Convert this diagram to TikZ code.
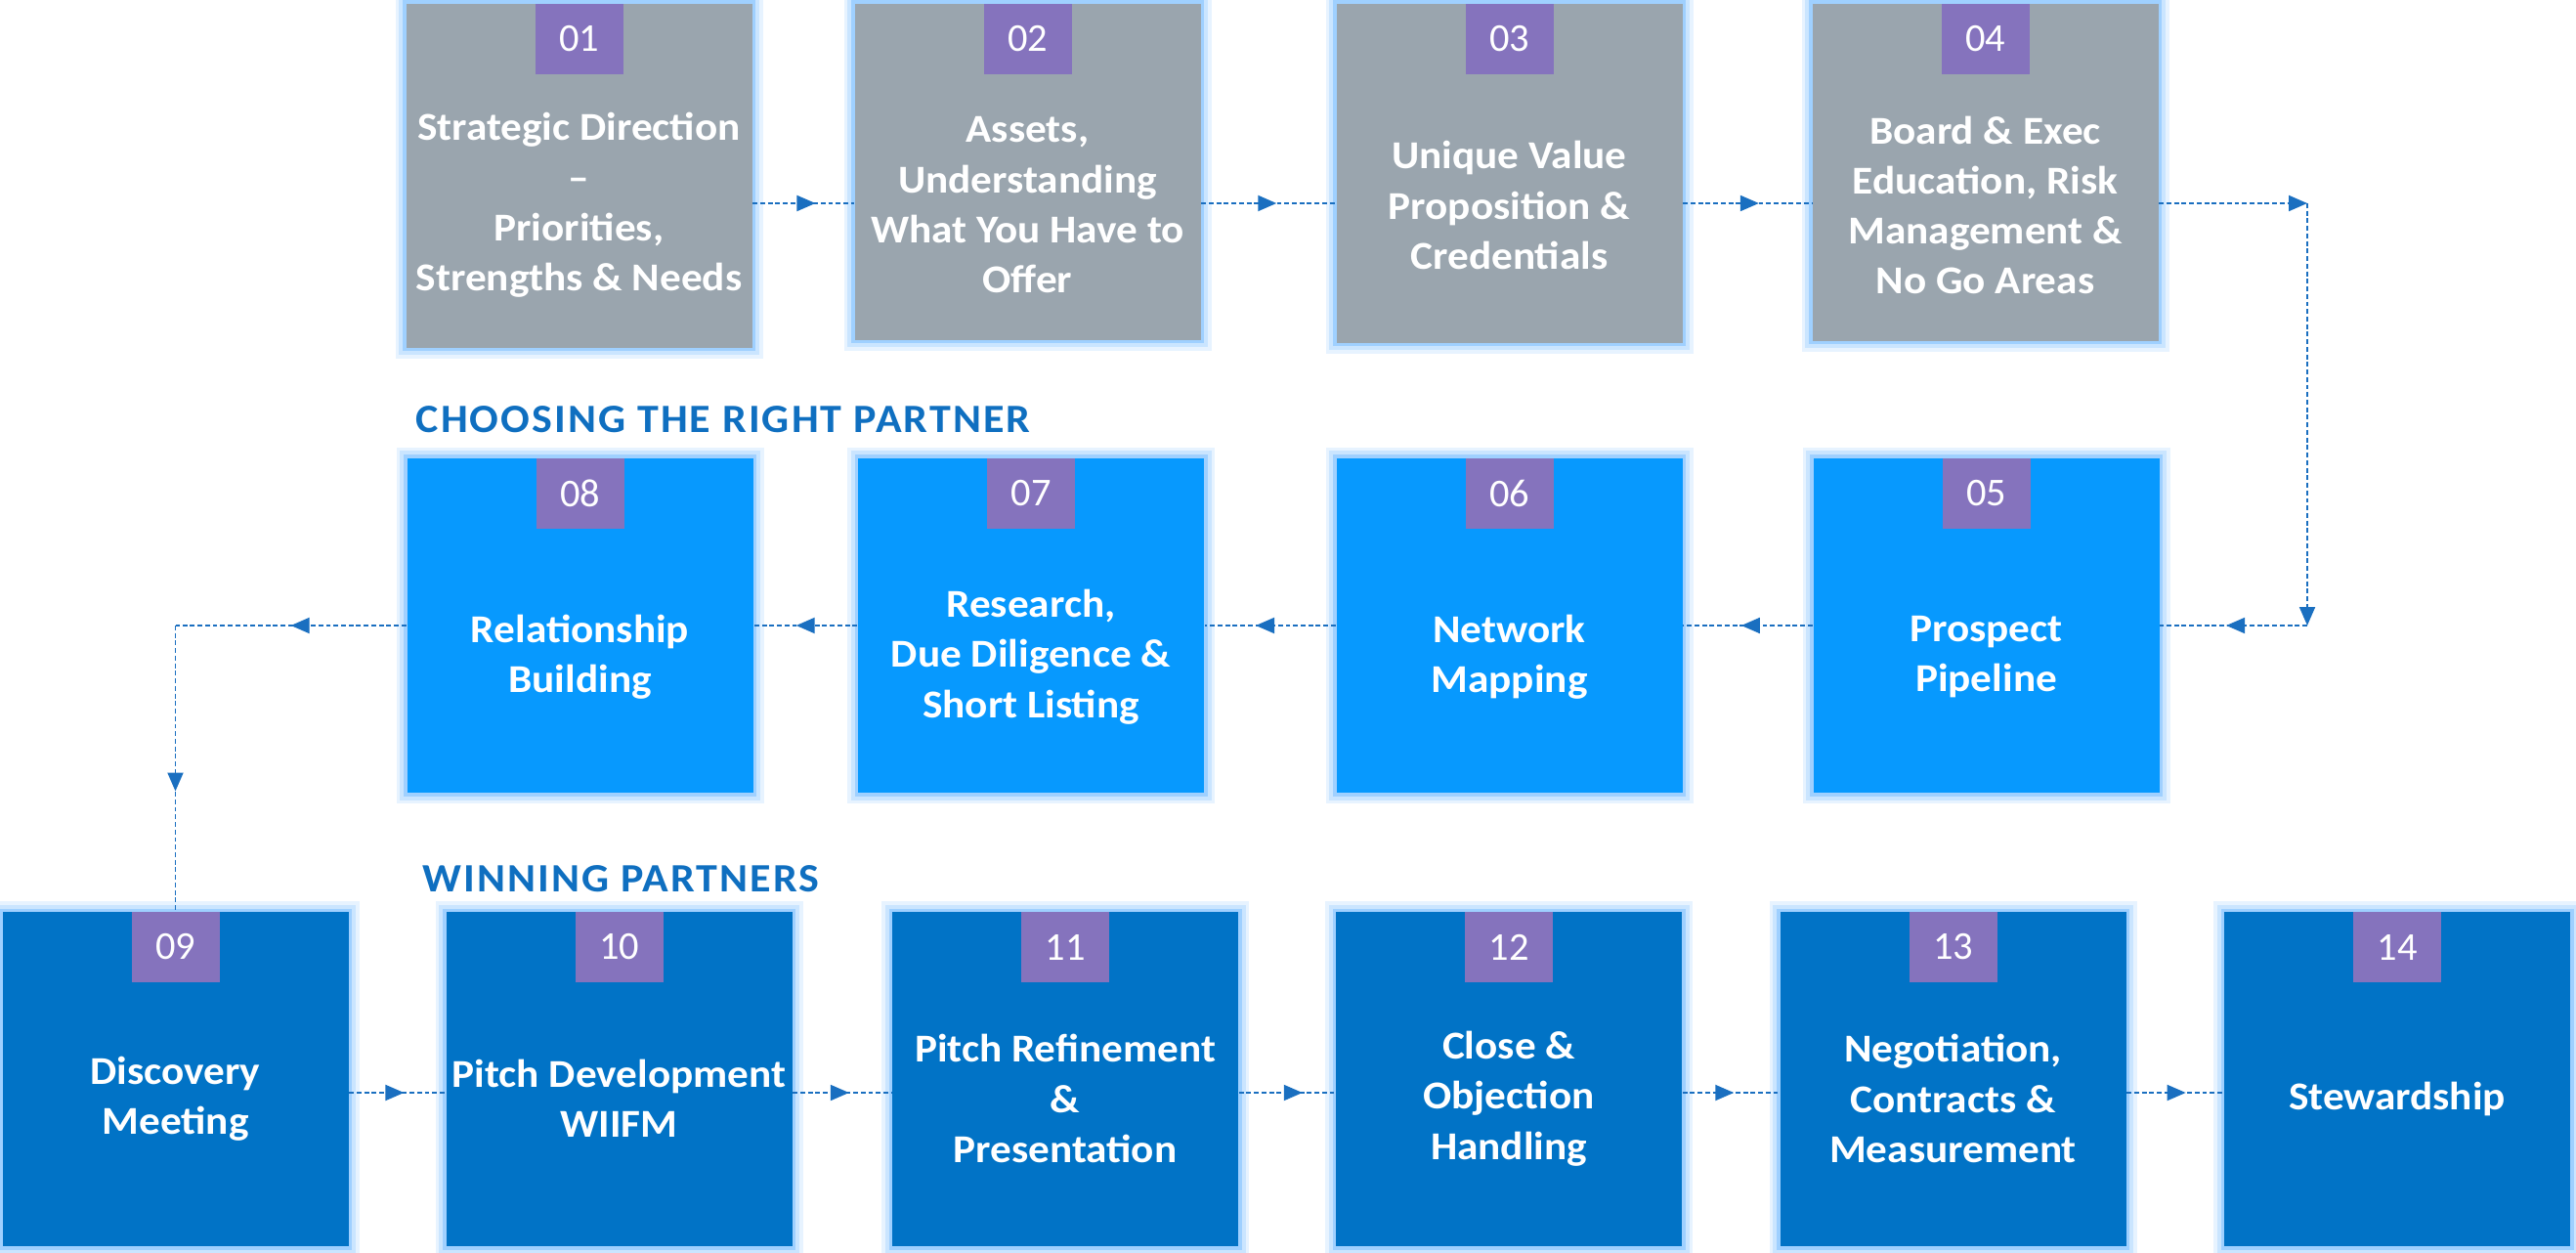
\documentclass[tikz,border=0pt]{standalone}
\usepackage{fontspec}
\setmainfont{Carlito}[FakeStretch=1.07]
\newfontfamily\tagfont{Carlito}
\newfontfamily\headfont{Carlito}[FakeStretch=1.07, LetterSpace=5]
\usetikzlibrary{arrows.meta,decorations.markings}

\definecolor{stepgray}{HTML}{9AA5AE}
\definecolor{steplight}{HTML}{0799FE}
\definecolor{stepdark}{HTML}{0173C6}
\definecolor{tagpurple}{HTML}{8573BD}
\definecolor{glowblue}{HTML}{9FD0FF}
\definecolor{headblue}{HTML}{0F6FC0}
\definecolor{flowblue}{HTML}{1A6FC0}

\tikzset{
  stepbox/.style={rectangle, minimum width=3.54cm, minimum height=3.42cm,
                  inner sep=0,
                  preaction={draw=glowblue!25, line width=0.22cm},
                  preaction={draw=glowblue!55, line width=0.15cm},
                  preaction={draw=glowblue, line width=0.07cm}},
  steptag/.style={rectangle, fill=tagpurple, minimum width=0.9cm,
                  minimum height=0.72cm, inner sep=0, anchor=north,
                  text=white, font=\tagfont\fontsize{11.5}{14}\selectfont},
  steptext/.style={text=white, align=center, inner sep=0,
                   font=\fontsize{11.5}{14.6}\selectfont\bfseries},
  rowhead/.style={text=headblue, anchor=base west, inner sep=0,
                  font=\headfont\fontsize{11.7}{14}\selectfont\bfseries},
  flow/.style={flowblue, line width=0.55pt, dash pattern=on 1.4pt off 0.8pt},
  flow mid/.style={flow, postaction={decorate},
                   decoration={markings,
                     mark=at position #1 with {\arrow{Triangle[length=1.9mm,width=1.6mm]}}}},
  flow end/.style={flow, -{Triangle[length=1.9mm,width=1.6mm]}},
}

\begin{document}
\begin{tikzpicture}
  \useasboundingbox (0,0) rectangle (26.36,12.81);

  % === Row 1: grey steps, hung from the top edge ===
  \foreach \n/\x/\h/\txt in {
      01/5.925/3.52/{Strategic Direction\\–\\Priorities,\\Strengths \& Needs},
      02/10.515/3.44/{Assets,\\Understanding\\What You Have to\\Offer},
      03/15.445/3.47/{Unique Value\\Proposition \&\\Credentials},
      04/20.315/3.45/{Board \& Exec\\Education, Risk\\Management \&\\No Go Areas}} {
    \node[stepbox, fill=stepgray, minimum height=\h cm, anchor=north]
      (b\n) at (\x,12.78) {};
    \node[steptag] (n\n) at (b\n.north) {\n};
    \node[steptext] (t\n) at (\x,10.71) {\txt};
  }

  % === Row 2: light blue, running right to left ===
  \node[rowhead] (hpartner) at (4.25,8.38) {CHOOSING THE RIGHT PARTNER};
  \foreach \n/\x/\txt in {
      05/20.325/{Prospect\\Pipeline},
      06/15.445/{Network\\Mapping},
      07/10.550/{Research,\\Due Diligence \&\\Short Listing},
      08/5.935/{Relationship\\Building}} {
    \node[stepbox, fill=steplight] (b\n) at (\x,6.41) {};
    \node[steptag] (n\n) at (b\n.north) {\n};
    \node[steptext] (t\n) at (\x,6.09) {\txt};
  }

  % === Row 3: dark blue ===
  \node[rowhead] (hwinning) at (4.32,3.69) {WINNING PARTNERS};
  \foreach \n/\x/\txt in {
      09/1.795/{Discovery\\Meeting},
      10/6.335/{Pitch Development\\WIIFM},
      11/10.900/{Pitch Refinement\\\&\\Presentation},
      12/15.440/{Close \&\\Objection\\Handling},
      13/19.985/{Negotiation,\\Contracts \&\\Measurement},
      14/24.530/{Stewardship}} {
    \node[stepbox, fill=stepdark] (b\n) at (\x,1.77) {};
    \node[steptag] (n\n) at (b\n.north) {\n};
    \node[steptext] (t\n) at (\x,1.57) {\txt};
  }

  % connector levels and corners
  \coordinate (rowa) at (0,10.73);
  \coordinate (rowc) at (0,1.63);
  \coordinate (ra) at (23.61,10.73);
  \coordinate (rb) at (ra |- b05.east);
  \coordinate (lc) at (b09.north |- b08.west);

  % row 1, left to right, then down the right side
  \draw[flow mid=0.62] (b01.east |- rowa) -- (b02.west |- rowa);
  \draw[flow mid=0.56] (b02.east |- rowa) -- (b03.west |- rowa);
  \draw[flow mid=0.59] (b03.east |- rowa) -- (b04.west |- rowa);
  \draw[flow end] (b04.east |- rowa) -- (ra);
  \draw[flow end] (ra) -- (rb);

  % row 2, right to left, then down the left side
  \draw[flow mid=0.55] (rb) -- (b05.east);
  \draw[flow mid=0.55] (b05.west) -- (b06.east);
  \draw[flow mid=0.61] (b06.west) -- (b07.east);
  \draw[flow mid=0.59] (b07.west) -- (b08.east);
  \draw[flow mid=0.50] (b08.west) -- (lc);
  \draw[flow mid=0.58] (lc) -- (b09.north);

  % row 3, left to right
  \draw[flow mid=0.57] (b09.east |- rowc) -- (b10.west |- rowc);
  \draw[flow mid=0.57] (b10.east |- rowc) -- (b11.west |- rowc);
  \draw[flow mid=0.66] (b11.east |- rowc) -- (b12.west |- rowc);
  \draw[flow mid=0.53] (b12.east |- rowc) -- (b13.west |- rowc);
  \draw[flow mid=0.61] (b13.east |- rowc) -- (b14.west |- rowc);
\end{tikzpicture}
\end{document}
